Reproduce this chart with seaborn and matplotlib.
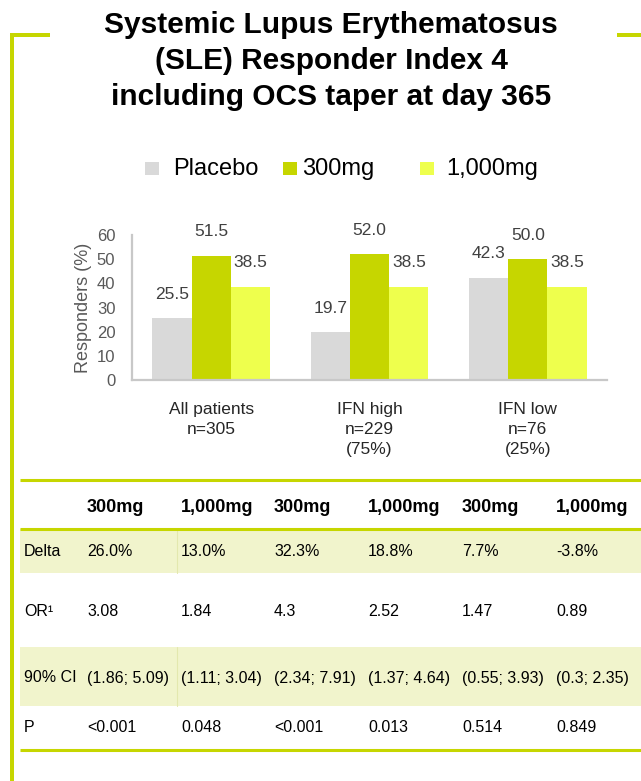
import numpy as np
import pandas as pd
import matplotlib
matplotlib.use("Agg")
import matplotlib.pyplot as plt
from matplotlib.patches import Rectangle
import seaborn as sns

# ---- chart data ----
groups = ["All patients\nn=305", "IFN high\nn=229\n(75%)", "IFN low\nn=76\n(25%)"]
doses = ["Placebo", "300mg", "1,000mg"]
placebo = [25.5, 19.7, 42.3]
dose_300 = [51.5, 52.0, 50.0]
dose_1000 = [38.5, 38.5, 38.5]
y_ticks = [0, 10, 20, 30, 40, 50, 60]

# ---- table data ----
table_header = ["300mg", "1,000mg", "300mg", "1,000mg", "300mg", "1,000mg"]
row_labels = ["Delta", "OR¹", "90% CI", "P"]
delta = ["26.0%", "13.0%", "32.3%", "18.8%", "7.7%", "-3.8%"]
odds_ratio = ["3.08", "1.84", "4.3", "2.52", "1.47", "0.89"]
ci_90 = ["(1.86; 5.09)", "(1.11; 3.04)", "(2.34; 7.91)",
         "(1.37; 4.64)", "(0.55; 3.93)", "(0.3; 2.35)"]
p_values = ["<0.001", "0.048", "<0.001", "0.013", "0.514", "0.849"]

title = "Systemic Lupus Erythematosus\n(SLE) Responder Index 4\nincluding OCS taper at day 365"

# ---- styling ----
sns.set_style("white")
plt.rcParams["font.family"] = ["Liberation Sans", "DejaVu Sans"]

GREEN = "#C6D600"
colors = {"Placebo": "#D9D9D9", "300mg": "#C6D600", "1,000mg": "#EEFF4D"}
SHADE = "#F1F4CC"
AXIS_GREY = "#C8C8C8"
TICK_GREY = "#595959"

W, H = 641, 781
fig = plt.figure(figsize=(W / 100, H / 100), dpi=100)

# overlay in pixel coordinates for the title, legend, frame and table
ov = fig.add_axes([0, 0, 1, 1])
ov.set_xlim(0, W)
ov.set_ylim(H, 0)
ov.axis("off")

# green frame
ov.add_patch(Rectangle((10, 33), 4, H - 33, color=GREEN, lw=0))
ov.add_patch(Rectangle((10, 33), 40, 4, color=GREEN, lw=0))
ov.add_patch(Rectangle((617, 33), 24, 4, color=GREEN, lw=0))

# title
ov.text(331, 61, title, ha="center", va="center", fontsize=21.5,
        fontweight="bold", color="black", linespacing=1.38)

# legend
legend_boxes = [145, 283, 420]
legend_text = [173, 302, 446]
for name, bx, tx in zip(doses, legend_boxes, legend_text):
    ov.add_patch(Rectangle((bx, 162), 14, 13, color=colors[name], lw=0))
    ov.text(tx, 169, name, ha="left", va="center", fontsize=17, color="black")

# ---- bar chart ----
ax = fig.add_axes([132 / W, 1 - 380 / H, 475 / W, 145 / H])
df = pd.DataFrame({
    "group": groups * 3,
    "dose": np.repeat(doses, len(groups)),
    "value": placebo + dose_300 + dose_1000,
})
sns.barplot(data=df, x="group", y="value", hue="dose", order=groups,
            hue_order=doses, palette=colors, width=0.745, saturation=1,
            errorbar=None, legend=False, linewidth=0, ax=ax)
for cont in ax.containers:
    ax.bar_label(cont, fmt="%.1f", padding=12, fontsize=12.5, color="#404040")

ax.set_ylim(0, 60)
ax.set_yticks(y_ticks)
ax.set_xlim(-0.5, 2.5)
ax.set_xlabel("")
ax.set_ylabel("Responders (%)", fontsize=13, color=TICK_GREY)
ax.yaxis.set_label_coords(-0.084, 0.5)
for s in ["top", "right"]:
    ax.spines[s].set_visible(False)
for s in ["left", "bottom"]:
    ax.spines[s].set_color(AXIS_GREY)
    ax.spines[s].set_linewidth(1.6)
ax.tick_params(axis="y", length=0, pad=12, labelsize=12, labelcolor=TICK_GREY)
ax.tick_params(axis="x", length=0, pad=15.5, labelsize=12.5, labelcolor="#262626")
for lab in ax.get_xticklabels():
    lab.set_linespacing(1.45)
ax.patch.set_alpha(0)

# ---- results table ----
col_x = [87, 181, 274, 368, 462, 556]
row_y = [552, 611, 678, 728]
ov.add_patch(Rectangle((20, 529), W - 20, 44, color=SHADE, lw=0))
ov.add_patch(Rectangle((20, 647), W - 20, 59, color=SHADE, lw=0))
ov.plot([177, 177], [529, 573], color="#E3E8AE", lw=0.8)
ov.plot([177, 177], [647, 706], color="#E3E8AE", lw=0.8)
for yy in [480, 529, 750]:
    ov.plot([20, W], [yy, yy], color=GREEN, lw=2.2, solid_capstyle="butt")

for x, h in zip(col_x, table_header):
    ov.text(x, 507, h, ha="left", va="center", fontsize=13,
            fontweight="bold", color="black")
rows = [delta, odds_ratio, ci_90, p_values]
for y, lab, vals in zip(row_y, row_labels, rows):
    ov.text(24, y, lab, ha="left", va="center", fontsize=11.5, color="black")
    for x, v in zip(col_x, vals):
        ov.text(x, y, v, ha="left", va="center", fontsize=11.5, color="black")

fig.savefig("out.png", dpi=100)
